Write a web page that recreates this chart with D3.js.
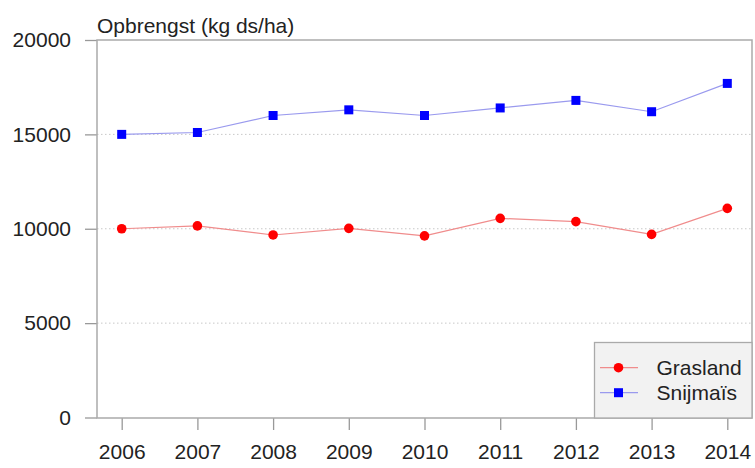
<html lang="nl">
<head>
<script src="https://cdnjs.cloudflare.com/ajax/libs/d3/7.7.0/d3.min.js"></script>
<style>
html, body { margin: 0; padding: 0; background: #fff; }
svg { font-family: 'Liberation Sans', Arial, sans-serif; }
</style>
</head>
<body>
<svg width="755" height="468"></svg>
<script>
const years = [2006, 2007, 2008, 2009, 2010, 2011, 2012, 2013, 2014];
const grasland = [10000, 10150, 9670, 10020, 9620, 10550, 10380, 9700, 11080];
const snijmais = [15000, 15100, 16000, 16300, 16000, 16400, 16800, 16200, 17700];
const yTicks = [0, 5000, 10000, 15000, 20000];
const gridTicks = [5000, 10000, 15000];

const svg = d3.select('svg');
const box = { left: 97, right: 752, top: 40, bottom: 418 };

const x = d3.scaleLinear().domain([2006, 2014]).range([121.7, 727.3]);
const y = d3.scaleLinear().domain([0, 20000]).range([417.5, 40]);

// dotted grid
svg.selectAll('.grid')
  .data(gridTicks)
  .enter()
  .append('line')
  .attr('x1', box.left)
  .attr('x2', box.right)
  .attr('y1', d => y(d))
  .attr('y2', d => y(d))
  .attr('stroke', '#c8c8c8')
  .attr('stroke-width', 1)
  .attr('stroke-dasharray', '1.5 2.5');

// axes
const yAxis = d3.axisLeft(y).tickValues(yTicks).tickSize(12).tickPadding(14).tickFormat(d => d);
const gy = svg.append('g').attr('transform', `translate(${box.left},0)`).call(yAxis);
gy.select('.domain').remove();
gy.selectAll('line').attr('stroke', '#999').attr('stroke-width', 1.3);
gy.selectAll('text').attr('font-size', 21).attr('fill', '#222').attr('font-family', "'Liberation Sans', Arial, sans-serif");

const xAxis = d3.axisBottom(x).tickValues(years).tickSize(12).tickPadding(14).tickFormat(d => d);
const gx = svg.append('g').attr('transform', `translate(0,${box.bottom})`).call(xAxis);
gx.select('.domain').remove();
gx.selectAll('line').attr('stroke', '#999').attr('stroke-width', 1.3);
gx.selectAll('text').attr('font-size', 21).attr('fill', '#222').attr('font-family', "'Liberation Sans', Arial, sans-serif");

// plot box
svg.append('rect')
  .attr('x', box.left)
  .attr('y', box.top)
  .attr('width', box.right - box.left)
  .attr('height', box.bottom - box.top)
  .attr('fill', 'none')
  .attr('stroke', '#aaa')
  .attr('stroke-width', 1.5);

svg.append('text')
  .attr('x', box.left)
  .attr('y', 33)
  .attr('font-size', 21)
  .attr('fill', '#222')
  .text('Opbrengst (kg ds/ha)');

const line = d3.line().x((d, i) => x(years[i])).y(d => y(d));

// Grasland
svg.append('path')
  .datum(grasland)
  .attr('d', line)
  .attr('fill', 'none')
  .attr('stroke', '#f08c8c')
  .attr('stroke-width', 1.2);
svg.selectAll('.gras')
  .data(grasland)
  .enter()
  .append('circle')
  .attr('cx', (d, i) => x(years[i]))
  .attr('cy', d => y(d))
  .attr('r', 4.8)
  .attr('fill', '#ff0000');

// Snijmais
svg.append('path')
  .datum(snijmais)
  .attr('d', line)
  .attr('fill', 'none')
  .attr('stroke', '#9a9aee')
  .attr('stroke-width', 1.2);
svg.selectAll('.mais')
  .data(snijmais)
  .enter()
  .append('rect')
  .attr('x', (d, i) => x(years[i]) - 4.5)
  .attr('y', d => y(d) - 4.5)
  .attr('width', 9)
  .attr('height', 9)
  .attr('fill', '#0000ff');

// legend
const lg = svg.append('g');
lg.append('rect')
  .attr('x', 594.5)
  .attr('y', 342.5)
  .attr('width', box.right - 594.5)
  .attr('height', box.bottom - 342.5)
  .attr('fill', '#f2f2f2')
  .attr('stroke', '#aaa')
  .attr('stroke-width', 1.3);

const legendItems = [
  { name: 'Grasland', line: '#f08c8c', fill: '#ff0000', shape: 'circle', y: 367.7 },
  { name: 'Snijmaïs', line: '#9a9aee', fill: '#0000ff', shape: 'square', y: 392.7 }
];
legendItems.forEach(it => {
  lg.append('line')
    .attr('x1', 600).attr('x2', 638)
    .attr('y1', it.y).attr('y2', it.y)
    .attr('stroke', it.line).attr('stroke-width', 1.2);
  if (it.shape === 'circle') {
    lg.append('circle').attr('cx', 618.5).attr('cy', it.y).attr('r', 4.8).attr('fill', it.fill);
  } else {
    lg.append('rect').attr('x', 614).attr('y', it.y - 4.5).attr('width', 9).attr('height', 9).attr('fill', it.fill);
  }
  lg.append('text')
    .attr('x', 656.5)
    .attr('y', it.y + 7.5)
    .attr('font-size', 21)
    .attr('fill', '#222')
    .text(it.name);
});
</script>
</body>
</html>
